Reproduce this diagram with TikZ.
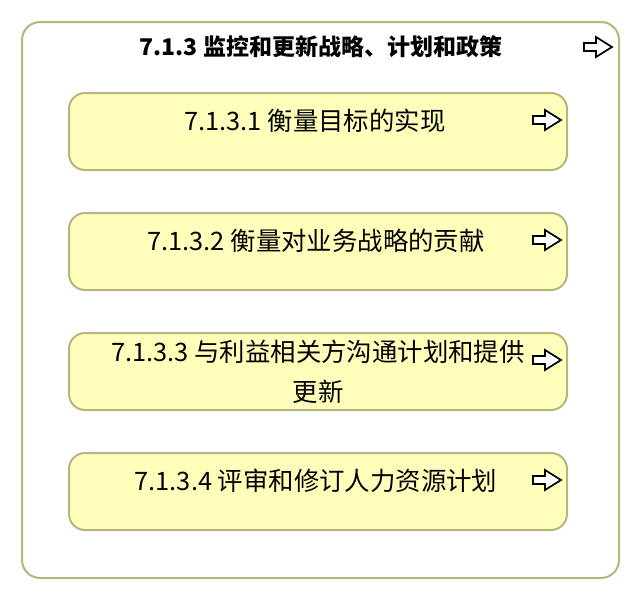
\documentclass[tikz,border=0pt]{standalone}
\usepackage{fontspec}
\setmainfont{Noto Sans CJK SC}
\definecolor{boxfill}{HTML}{FFFFBB}
\definecolor{boxline}{HTML}{B5B57D}
\tikzset{
	outerbox/.style={draw=boxline, line width=2pt, fill=white, rounded corners=18pt},
	taskbox/.style={draw=boxline, line width=2pt, fill=boxfill, rounded corners=16pt},
	tasktext/.style={font=\fontsize{25.4}{40}\selectfont, align=center, inner sep=0pt},
	fwd/.pic={\draw[line width=1.7pt, fill=white] (-14,-4) -- (-2,-4) -- (-2,-10) -- (14,0) -- (-2,10) -- (-2,4) -- (-14,4) -- cycle;}
}
\begin{document}
\begin{tikzpicture}[x=1pt, y=-1pt]
	\useasboundingbox (0,0) rectangle (640,600);
	\draw[outerbox] (22,22) rectangle (619,578); %713
	\draw[taskbox] (69,93) rectangle (567,170); %7131
	\draw[taskbox] (69,213) rectangle (567,290); %7132
	\draw[taskbox] (69,333) rectangle (567,410); %7133
	\draw[taskbox] (69,453) rectangle (567,530); %7134

	\node[font=\fontsize{23}{26}\selectfont\bfseries, inner sep=0pt] at (321,47) (title) {7.1.3 监控和更新战略、计划和政策};
	\node[tasktext] at (315,121) (measure) {7.1.3.1 衡量目标的实现};
	\node[tasktext] at (316,241) (contrib) {7.1.3.2 衡量对业务战略的贡献};
	\node[tasktext] at (318,372) (commun) {7.1.3.3 与利益相关方沟通计划和提供\\更新};
	\node[tasktext] at (316,481) (review) {7.1.3.4 评审和修订人力资源计划};

	\pic at (598,47) {fwd};
	\pic at (547,120) {fwd};
	\pic at (547,240) {fwd};
	\pic at (547,360) {fwd};
	\pic at (547,480) {fwd};
\end{tikzpicture}
\end{document}
